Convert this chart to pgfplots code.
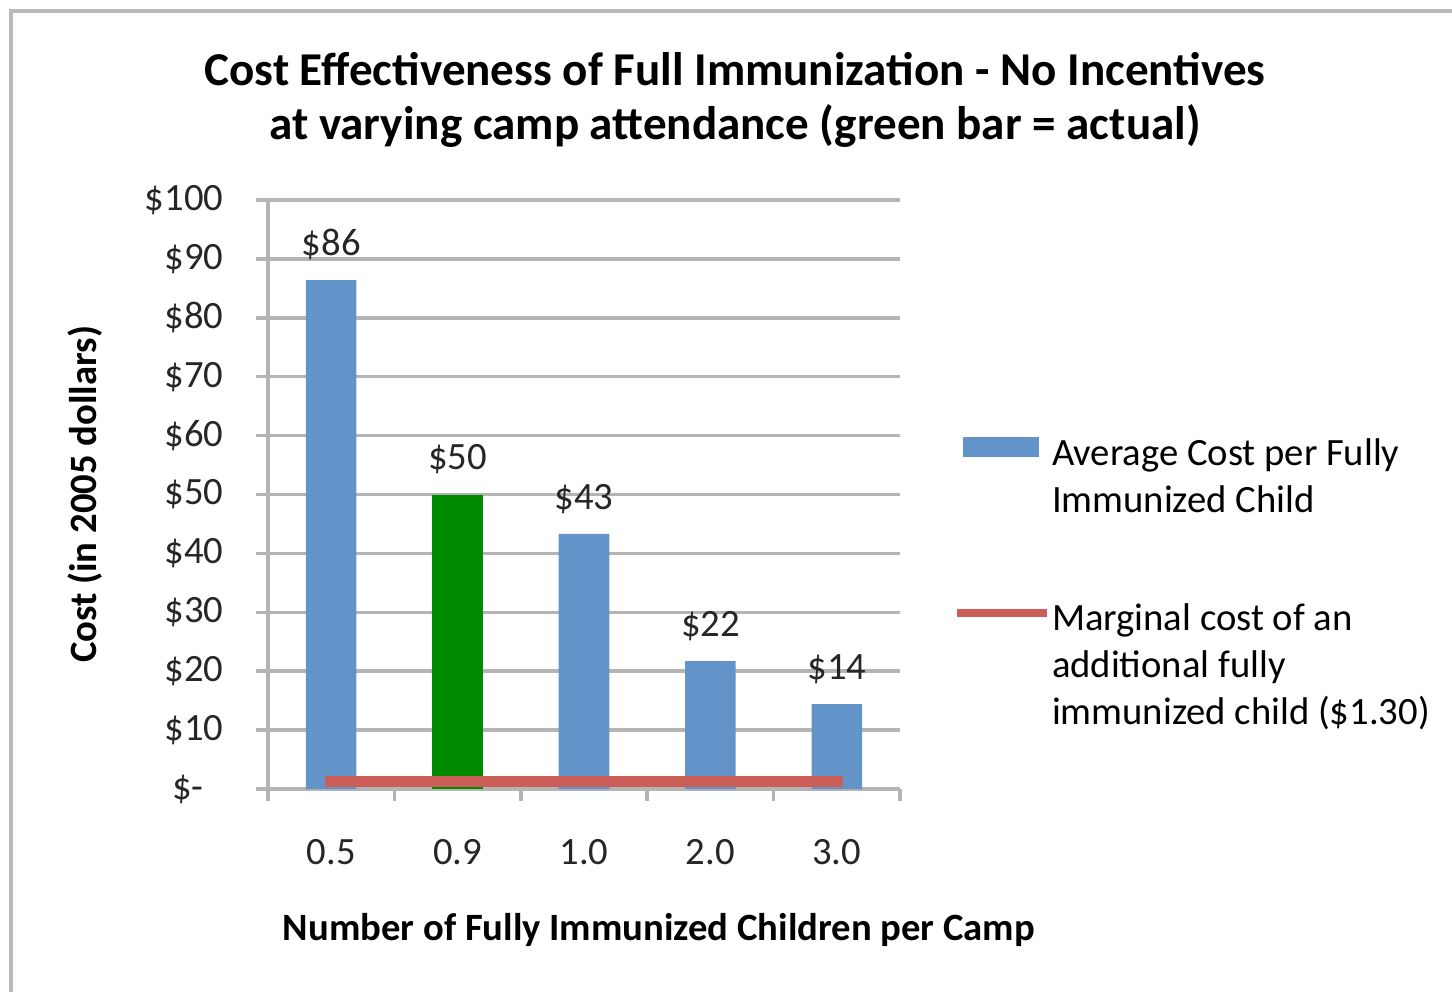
\documentclass[border=0pt]{standalone}
\usepackage{pgfplots}
\pgfplotsset{compat=1.18}
\usepackage{fontspec}
\setmainfont{Carlito}
\definecolor{barblue}{HTML}{6394C9}
\definecolor{bargreen}{HTML}{008A00}
\definecolor{linered}{HTML}{CB5F57}
\definecolor{gridgray}{HTML}{B4B4B4}
\begin{document}
\begin{tikzpicture}
\path[use as bounding box] (0,0) rectangle (14.52,9.92);
\draw[gray!55, line width=1.2pt] (0.11,0) -- (0.11,9.81) -- (14.52,9.81);
\node[font=\fontsize{13.4}{15.6}\selectfont\bfseries, align=center] at (7.35,8.92)
  {Cost Effectiveness of Full Immunization - No Incentives\\at varying camp attendance (green bar = actual)};
\begin{axis}[
  at={(2.68cm,2.03cm)}, anchor=south west,
  scale only axis, width=6.32cm, height=5.89cm,
  /pgf/number format/assume math mode=true,
  xmin=-0.5, xmax=4.5, ymin=0, ymax=100,
  ytick={0,10,...,100},
  yticklabels={\$-\hphantom{0},\$10,\$20,\$30,\$40,\$50,\$60,\$70,\$80,\$90,\$100},
  xtick={0,1,2,3,4},
  xticklabels={0.5,0.9,1.0,2.0,3.0},
  minor xtick={-0.5,0.5,1.5,2.5,3.5,4.5},
  major x tick style={draw=none},
  ymajorgrids,
  grid style={gridgray, line width=1pt},
  axis x line*=bottom, axis y line*=left,
  axis line style={gridgray, line width=1pt},
  every tick/.style={gridgray, line width=1pt},
  tick align=outside,
  major tick length=0.12cm, minor tick length=0.12cm,
  ticklabel style={font=\fontsize{11}{13.4}\selectfont, text=black!85},
  xticklabel style={anchor=base, yshift=-0.63cm},
  yticklabel style={anchor=east, inner sep=0pt, xshift=-0.32cm},
  xlabel={Number of Fully Immunized Children per Camp},
  ylabel={Cost (in 2005 dollars)},
  label style={font=\fontsize{11}{13.4}\selectfont\bfseries},
  xlabel style={at={(axis description cs:0.5,0)}, anchor=center, xshift=0.75cm, yshift=-1.41cm},
  ylabel style={at={(axis description cs:-0.2896,0.5)}, anchor=center},
  legend style={draw=none, fill=none, at={(1.089,0.618)}, anchor=north west,
    inner sep=0pt, row sep=1.12cm, column sep=0.05cm,
    nodes={inner xsep=0pt},
    cells={anchor=base west}, font=\fontsize{11}{13.4}\selectfont},
]
\addplot[ybar, bar width=0.4, fill=barblue, draw=none,
  nodes near coords={\$\pgfmathprintnumber[fixed,precision=0]{\pgfplotspointmeta}},
  every node near coord/.append style={font=\fontsize{11}{13.4}\selectfont, text=black!85, anchor=south, yshift=0.08cm},
  legend image code/.code={\fill[barblue] (0.02cm,0.09cm) rectangle (0.78cm,0.29cm);}]
  coordinates {(0,86.4) (2,43.3) (3,21.7) (4,14.4)};
\addlegendentry{\begin{tabular}[t]{@{}l@{}}Average Cost per Fully\\Immunized Child\end{tabular}}
\addplot[ybar, bar width=0.4, fill=bargreen, draw=none, forget plot,
  nodes near coords={\$\pgfmathprintnumber[fixed,precision=0]{\pgfplotspointmeta}},
  every node near coord/.append style={font=\fontsize{11}{13.4}\selectfont, text=black!85, anchor=south, yshift=0.08cm}]
  coordinates {(1,50.0)};
\addplot[linered, line width=3.3pt, line cap=rect, mark=none,
  legend image code/.code={\draw[linered, line width=2.3pt] (0cm,0.17cm) -- (0.82cm,0.17cm);}]
  coordinates {(0,1.3) (4,1.3)};
\addlegendentry{\begin{tabular}[t]{@{}l@{}}Marginal cost of an\\additional fully\\immunized child (\$1.30)\end{tabular}}
\end{axis}
\end{tikzpicture}
\end{document}
